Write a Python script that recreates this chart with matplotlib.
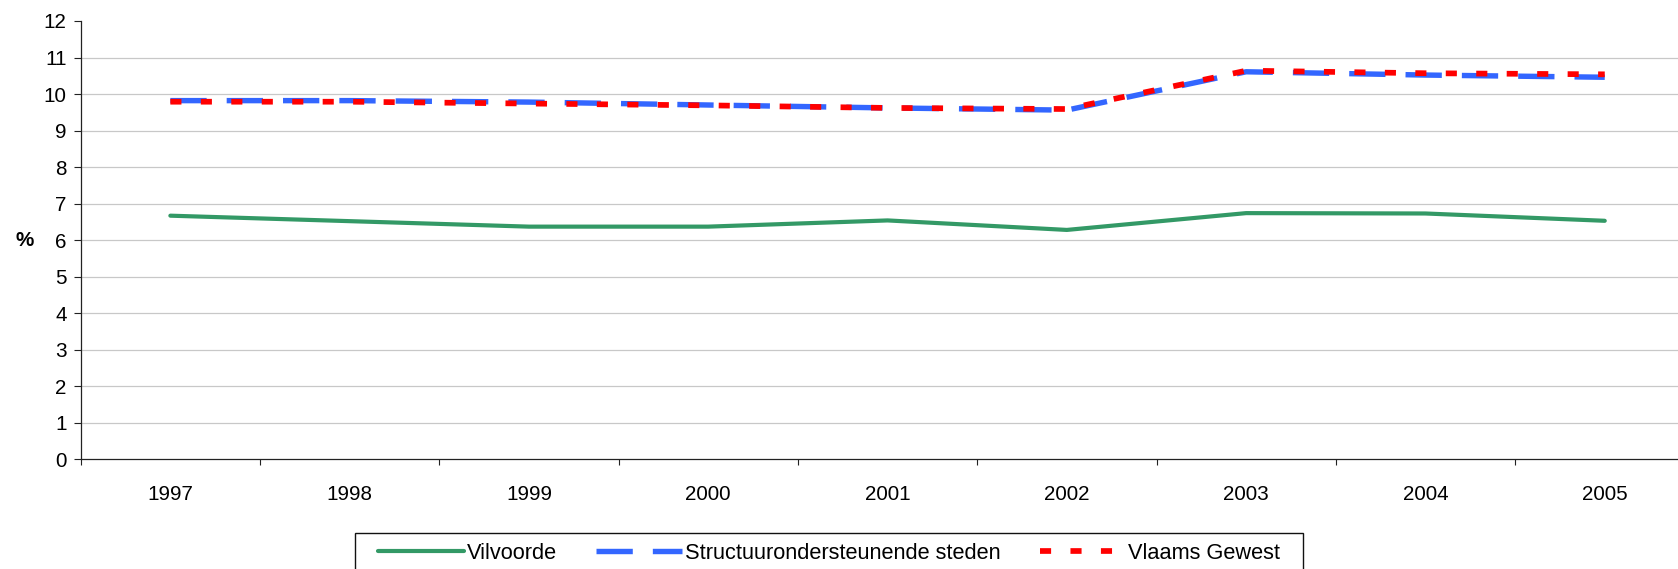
import matplotlib
matplotlib.use("Agg")
import matplotlib.pyplot as plt
from matplotlib.patches import Rectangle
import numpy as np

years = ["1997", "1998", "1999", "2000", "2001", "2002", "2003", "2004", "2005"]
vilvoorde = [6.67, 6.52, 6.37, 6.37, 6.54, 6.28, 6.74, 6.73, 6.53]
structuur = [9.82, 9.82, 9.78, 9.70, 9.62, 9.56, 10.61, 10.52, 10.46]
vlaams = [9.79, 9.79, 9.74, 9.69, 9.62, 9.59, 10.64, 10.57, 10.54]
series_names = ["Vilvoorde", "Structuurondersteunende steden", "Vlaams Gewest"]
yticks = list(range(0, 13))

plt.rcParams['font.family'] = ['Liberation Sans', 'DejaVu Sans']
FS = 14.9
LFS = 15.7
W, H = 1678, 569
fig = plt.figure(figsize=(W / 100, H / 100), dpi=100)
ax = fig.add_axes([80.7 / W, 1 - 459.3 / H, 1613.7 / W, (459.3 - 21) / H])

x = np.arange(len(years)) + 0.5
l1, = ax.plot(x, vilvoorde, color="#339966", lw=3.0, solid_capstyle="round",
              solid_joinstyle="round", zorder=3)
l2, = ax.plot(x, structuur, color="#3366FF", lw=3.9, linestyle=(0, (6.7, 3.7)),
              zorder=4)
l3, = ax.plot(x, vlaams, color="#FF0000", lw=4.1, linestyle=(0, (1.95, 3.4)),
              zorder=5)

ax.set_xlim(0, len(years))
ax.set_ylim(0, 12)
ax.set_yticks(yticks)
ax.set_yticklabels([str(v) for v in yticks], fontsize=FS)
ax.set_xticks(np.arange(len(years) + 1))
ax.set_xticklabels([])
ax.set_xticks(x, minor=True)
ax.set_xticklabels(years, minor=True, fontsize=FS)
ax.tick_params(axis="x", which="major", direction="out", length=4.5, width=0.8,
               color="#222222")
ax.tick_params(axis="x", which="minor", length=0, pad=18.5)
ax.tick_params(axis="y", direction="out", length=4.7, width=0.8, color="#222222",
               pad=5.5)

ax.grid(axis="y", color="#c8c8c8", lw=0.9, zorder=0)
gl = ax.get_ygridlines()
gl[-1].set_visible(False)
gl[0].set_visible(False)
ax.set_axisbelow(True)

for s in ["top", "right"]:
    ax.spines[s].set_visible(False)
for s in ["left", "bottom"]:
    ax.spines[s].set_color("#222222")
    ax.spines[s].set_linewidth(0.9)

ax.set_ylabel("%", rotation=0, fontweight="bold", fontsize=FS, ha="center",
              va="center")
ax.yaxis.set_label_coords((25 - 80.7) / 1613.7, 0.5)

leg = fig.legend([l1, l2, l3], series_names, loc="center left",
                 bbox_to_anchor=(378 / W, 1 - 553.5 / H), ncol=3, frameon=False,
                 fontsize=LFS, handlelength=3.95, handletextpad=0.12,
                 columnspacing=1.8, borderpad=0, borderaxespad=0)

fig.canvas.draw()
bb = leg.get_window_extent()
padx = 23
top = (H - 553.5) + 21
rect = Rectangle((bb.x0 - padx, -20), (bb.x1 - bb.x0) + 2 * padx, top + 20,
                 transform=None, fill=False, edgecolor="#111111", lw=1.0)
fig.patches.append(rect)

fig.savefig("out.png", dpi=100)
